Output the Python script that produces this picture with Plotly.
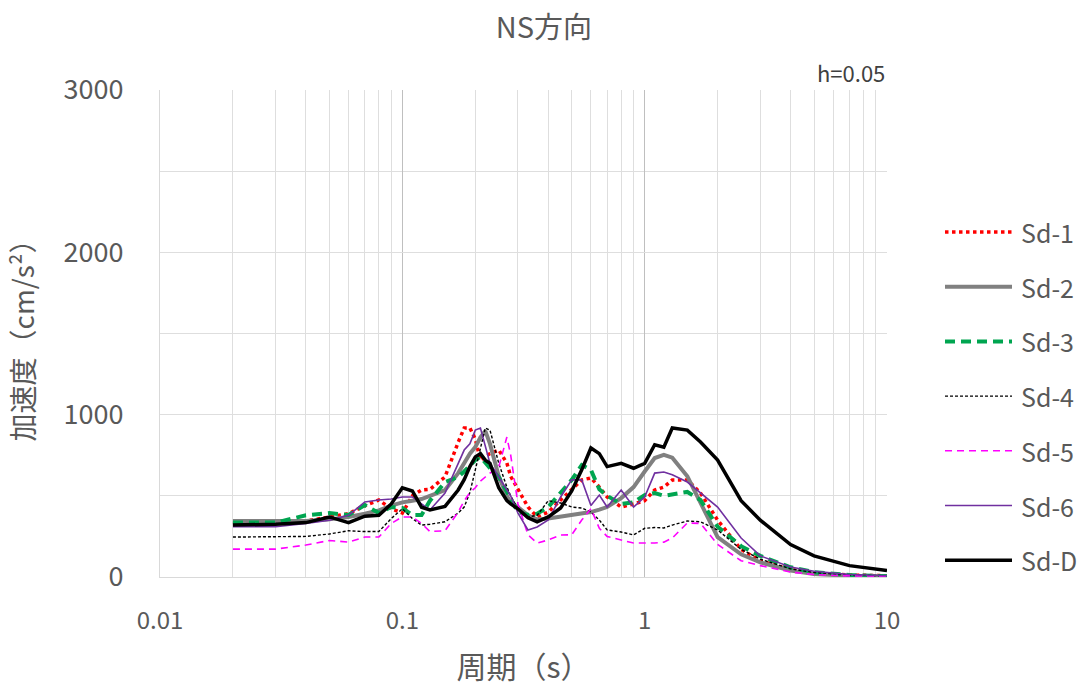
import plotly.graph_objects as go

# Natural period (s)
period = [0.02, 0.03, 0.04, 0.05, 0.06, 0.07, 0.08, 0.09, 0.1, 0.11, 0.12, 0.13,
          0.15, 0.17, 0.18, 0.19, 0.2, 0.21, 0.22, 0.23, 0.25, 0.27, 0.28, 0.3,
          0.33, 0.36, 0.4, 0.45, 0.5, 0.55, 0.6, 0.65, 0.7, 0.8, 0.9, 1.0, 1.1,
          1.2, 1.3, 1.5, 1.7, 2.0, 2.5, 3.0, 4.0, 5.0, 7.0, 10.0]

# Response acceleration (cm/s^2), damping h=0.05
sd_1 = [330, 335, 345, 370, 390, 440, 474, 420, 394, 500, 536, 540,
        616, 830, 918, 918, 850, 720, 740, 760, 782, 702, 620, 536,
        431, 370, 400, 474, 536, 598, 610, 554, 493, 431, 450, 470, 536,
        554, 598, 598, 517, 350, 170, 100, 45, 25, 12, 8]
sd_2 = [345, 345, 345, 355, 370, 390, 410, 440, 460, 470, 480, 500,
        536, 640, 700, 760, 800, 860, 900, 820, 620, 500, 460, 431,
        380, 355, 360, 372, 382, 392, 400, 415, 431, 486, 554, 650, 733,
        752, 735, 620, 456, 246, 140, 90, 40, 18, 8, 5]
sd_3 = [335, 335, 380, 394, 382, 443, 394, 431, 425, 382, 382, 470,
        585, 616, 650, 690, 720, 740, 700, 670, 616, 520, 480, 400,
        382, 390, 431, 520, 598, 690, 660, 540, 500, 450, 460, 505, 517,
        500, 510, 524, 474, 310, 190, 130, 60, 30, 12, 5]
sd_4 = [246, 246, 250, 265, 285, 280, 280, 360, 420, 360, 320, 325,
        340, 394, 431, 520, 660, 790, 918, 905, 700, 554, 500, 420,
        370, 380, 470, 456, 431, 425, 400, 351, 290, 277, 259, 300, 305,
        302, 320, 345, 340, 290, 170, 110, 50, 28, 12, 8]
sd_5 = [172, 172, 197, 225, 215, 246, 246, 330, 370, 370, 330, 280,
        285, 400, 470, 520, 550, 590, 616, 640, 678, 862, 750, 450,
        260, 209, 228, 259, 260, 351, 420, 300, 250, 228, 209, 209, 209,
        215, 240, 333, 330, 200, 100, 70, 30, 15, 7, 5]
sd_6 = [310, 310, 330, 350, 380, 462, 474, 480, 493, 493, 450, 413,
        517, 700, 782, 820, 905, 918, 801, 700, 616, 536, 500, 394,
        290, 308, 351, 493, 598, 598, 440, 505, 431, 536, 431, 493, 640,
        647, 630, 585, 517, 431, 240, 130, 62, 35, 15, 8]
sd_d = [320, 325, 335, 370, 335, 375, 380, 450, 550, 530, 430, 413,
        435, 536, 600, 680, 740, 760, 720, 700, 550, 470, 450, 420,
        365, 340, 370, 425, 530, 660, 795, 760, 680, 700, 670, 700, 815,
        800, 918, 905, 832, 720, 470, 350, 200, 130, 70, 40]

names = ["Sd-1", "Sd-2", "Sd-3", "Sd-4", "Sd-5", "Sd-6", "Sd-D"]
values = [sd_1, sd_2, sd_3, sd_4, sd_5, sd_6, sd_d]
styles = [
    dict(color="#FF0000", width=3.5, dash="dot"),
    dict(color="#808080", width=4, dash="solid"),
    dict(color="#00A550", width=4, dash="10px,6px"),
    dict(color="#000000", width=1.4, dash="3px,2px"),
    dict(color="#FF00FF", width=1.6, dash="7px,5px"),
    dict(color="#7030A0", width=1.6, dash="solid"),
    dict(color="#000000", width=3.5, dash="solid"),
]

FONT = "Noto Sans CJK JP"
TXT = "#595959"

fig = go.Figure()
for name, ys, st in zip(names, values, styles):
    fig.add_trace(go.Scatter(x=period, y=ys, mode="lines", name=name,
                             line=st, showlegend=False))

# Legend drawn at the right of the plot area
W, H = 1088, 693
ML, MR, MT, MB = 160, 201, 90, 116
pw, ph = W - ML - MR, H - MT - MB
leg_x0, leg_x1, leg_tx = 945, 1012, 1019
leg_y0, leg_dy = 232, 54.7
for i, (name, st) in enumerate(zip(names, styles)):
    ypx = leg_y0 + i * leg_dy
    yp = (H - MB - ypx) / ph
    fig.add_shape(type="line", xref="paper", yref="paper",
                  x0=(leg_x0 - ML) / pw, x1=(leg_x1 - ML) / pw, y0=yp, y1=yp,
                  line=st)
    fig.add_annotation(xref="paper", yref="paper", x=(leg_tx - ML) / pw, y=yp,
                       text=name, showarrow=False, xanchor="left", yanchor="middle",
                       font=dict(family=FONT, size=25, color=TXT))

fig.add_annotation(xref="paper", yref="paper", x=1.0, y=1.0, yshift=0,
                   text="h=0.05", showarrow=False, xanchor="right", yanchor="bottom",
                   font=dict(family=FONT, size=22, color="#404040"))

fig.update_layout(
    width=W, height=H,
    margin=dict(l=ML, r=MR, t=MT, b=MB),
    paper_bgcolor="white", plot_bgcolor="white",
    title=dict(text="NS方向", x=0.5, xanchor="center", y=0.96, yanchor="middle",
               font=dict(family=FONT, size=29, color=TXT)),
    xaxis=dict(
        type="log", range=[-2, 1],
        tickvals=[0.01, 0.1, 1, 10], ticktext=["0.01", "0.1", "1", "10"],
        showgrid=True, gridcolor="#BFBFBF", gridwidth=1.3,
        minor=dict(dtick="D1", showgrid=True, gridcolor="#DEDEDE", gridwidth=1.3),
        showline=True, linecolor="#D9D9D9", linewidth=1.3,
        ticks="", ticklabelstandoff=22,
        tickfont=dict(family=FONT, size=24, color=TXT),
        title=dict(text="周期（s）", standoff=22,
                   font=dict(family=FONT, size=30, color=TXT)),
        zeroline=False,
    ),
    yaxis=dict(
        range=[0, 3000], tickvals=[0, 1000, 2000, 3000],
        showgrid=True, gridcolor="#DEDEDE", gridwidth=1.3,
        minor=dict(dtick=500, showgrid=True, gridcolor="#DEDEDE", gridwidth=1.3),
        showline=True, linecolor="#D9D9D9", linewidth=1.3,
        ticks="", ticklabelstandoff=30,
        tickfont=dict(family=FONT, size=27, color=TXT),
        title=dict(text="加速度（cm/s²）", standoff=20,
                   font=dict(family=FONT, size=28, color=TXT)),
        zeroline=False,
    ),
)

fig.write_html("out.html")
